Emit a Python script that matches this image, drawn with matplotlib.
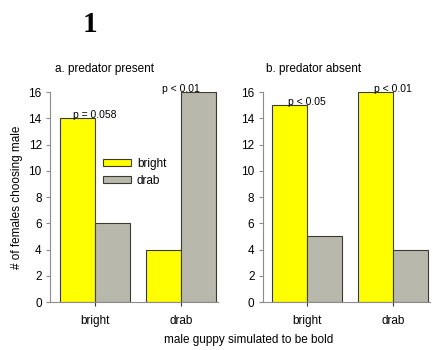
import matplotlib
matplotlib.use("Agg")
import matplotlib.pyplot as plt
import numpy as np

plt.rcParams['font.family'] = ['Liberation Sans', 'DejaVu Sans']

categories = ["bright", "drab"]
series_names = ["bright", "drab"]
present_bright = [14, 4]
present_drab = [6, 16]
absent_bright = [15, 16]
absent_drab = [5, 4]
present_p = ["p = 0.058", "p < 0.01"]
absent_p = ["p < 0.05", "p < 0.01"]
yticks = [0, 2, 4, 6, 8, 10, 12, 14, 16]

yellow = "#ffff00"
grey = "#b8b8ac"
edge = "#3a3a30"
axis_grey = "#8c8c8c"

fig = plt.figure(figsize=(4.33, 3.5), dpi=100)
ax1 = fig.add_axes([0.1155, 0.137, 0.388, 0.6])
ax2 = fig.add_axes([0.607, 0.137, 0.386, 0.6])

x = np.arange(len(categories))
w = 0.41

def panel(ax, b, d, plabels, title, xlo, title_x):
    bars_b = ax.bar(x - w / 2, b, w, color=yellow, edgecolor=edge, linewidth=0.8, label=series_names[0])
    bars_d = ax.bar(x + w / 2, d, w, color=grey, edgecolor=edge, linewidth=0.8, label=series_names[1])
    ax.set_xlim(xlo, 1.43)
    ax.set_ylim(0, 16)
    ax.set_yticks(yticks)
    ax.set_xticks(x)
    ax.set_xticklabels(categories, fontsize=8.5)
    ax.tick_params(axis='y', labelsize=8.5, length=3, color=axis_grey, pad=3)
    ax.tick_params(axis='x', length=3, color="#333333", pad=6)
    for s in ["top", "right"]:
        ax.spines[s].set_visible(False)
    for s in ["left", "bottom"]:
        ax.spines[s].set_color(axis_grey)
        ax.spines[s].set_linewidth(0.8)
    ax.spines["bottom"].set_bounds(xlo - 0.03, 1.43)
    for i, lab in enumerate(plabels):
        top = max(b[i], d[i])
        ax.annotate(lab, (x[i], top), xytext=(0, -1.5), textcoords="offset points",
                    ha="center", va="bottom", fontsize=7.5)
    ax.text(title_x, 1.082, title, transform=ax.transAxes, fontsize=8.5, ha="left", va="bottom")
    return bars_b, bars_d

bb, bd = panel(ax1, present_bright, present_drab, present_p, "a. predator present", -0.523, 0.03)
panel(ax2, absent_bright, absent_drab, absent_p, "b. predator absent", -0.512, 0.02)

ax1.legend(handles=[bb, bd], labels=series_names, loc="upper left",
           bbox_to_anchor=(0.25, 0.738), frameon=False, fontsize=8.5,
           handlelength=2.4, handleheight=0.55, handletextpad=0.5, labelspacing=0.45)

ax1.set_ylabel("# of females choosing male", fontsize=8.5, labelpad=4)
fig.text(0.575, 0.028, "male guppy simulated to be bold", ha="center", va="center", fontsize=8.5)
fig.text(0.208, 0.93, "1", ha="center", va="center", fontsize=21, fontweight="bold",
         family=["Liberation Serif", "DejaVu Serif"])

fig.savefig("out.png", dpi=100)
